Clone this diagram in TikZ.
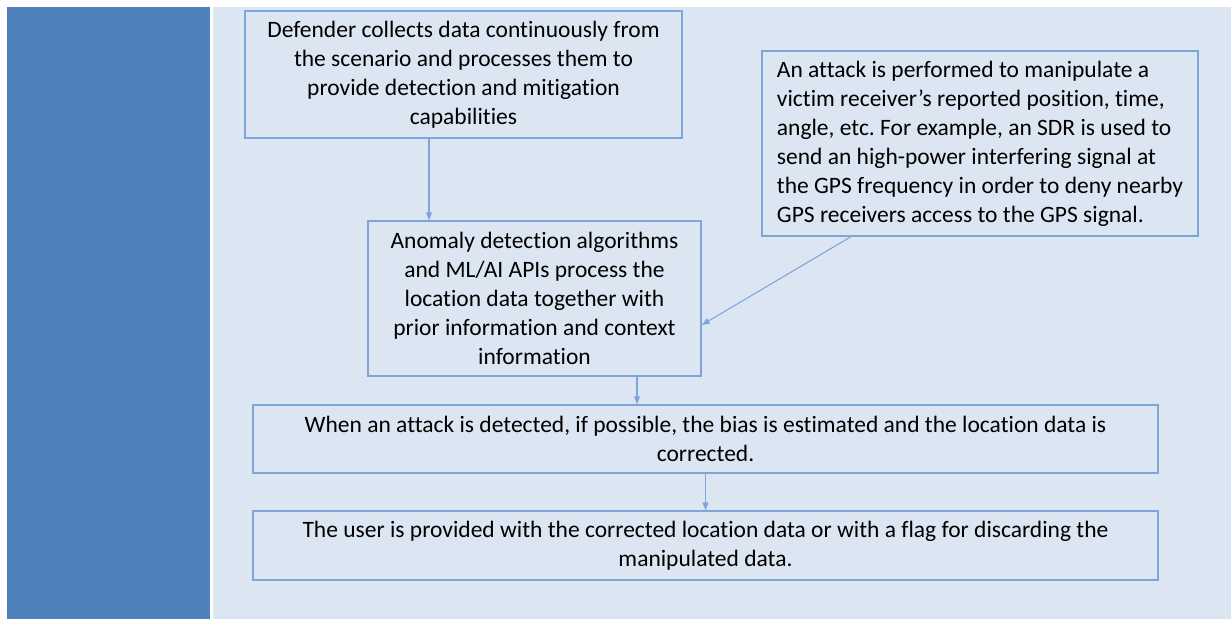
\documentclass[tikz,border=0pt]{standalone}
\usepackage{fontspec}
\setmainfont{Carlito}[Ligatures=NoCommon]
\usetikzlibrary{arrows.meta}
\frenchspacing

\definecolor{panelblue}{HTML}{4F81BD}
\definecolor{paleblue}{HTML}{DCE6F2}
\definecolor{edgeblue}{HTML}{7EA6D8}

\tikzset{
  stepbox/.style={draw=edgeblue, line width=1.3pt, inner sep=0pt, align=center,
    font=\fontsize{23.5}{29}\selectfont},
  arr/.style={edgeblue, line width=1.1pt, -{Triangle[length=8pt,width=6pt]}}
}

\begin{document}
\begin{tikzpicture}[x=1pt, y=-1pt]
        \useasboundingbox (0,0) rectangle (1231,619);
        \fill[panelblue] (7,7) rectangle (210,619);
        \fill[paleblue] (213,7) rectangle (1231,619);

        \node[stepbox, minimum width=437pt, minimum height=127pt] (defender) at (463.5,74.5)
            {Defender collects data continuously from\\the scenario and processes them to\\provide detection and mitigation\\capabilities};
        \node[stepbox, minimum width=333pt, minimum height=155pt] (anomaly) at (534.5,298.5)
            {Anomaly detection algorithms\\and ML/AI APIs process the\\location data together with\\prior information and context\\information};
        \node[stepbox, minimum width=436pt, minimum height=185pt, align=left] (attack) at (980,143.5)
            {An attack is performed to manipulate a\\victim receiver’s reported position, time,\\angle, etc. For example, an SDR is used to\\send an high-power interfering signal at\\the GPS frequency in order to deny nearby\\GPS receivers access to the GPS signal.};
        \node[stepbox, minimum width=905pt, minimum height=68pt] (estimate) at (705.5,439)
            {When an attack is detected, if possible, the bias is estimated and the location data is\\corrected.};
        \node[stepbox, minimum width=905pt, minimum height=69pt] (user) at (705.5,545.5)
            {The user is provided with the corrected location data or with a flag for discarding the\\manipulated data.};

        \draw[arr] (defender.south -| 429,0) -- (anomaly.north -| 429,0);
        \draw[arr] (attack.south -| 851,0) -- (anomaly.east |- 0,325);
        \draw[arr] (anomaly.south -| 637,0) -- (estimate.north -| 637,0);
        \draw[arr] (estimate.south) -- (user.north);
    \end{tikzpicture}
\end{document}
